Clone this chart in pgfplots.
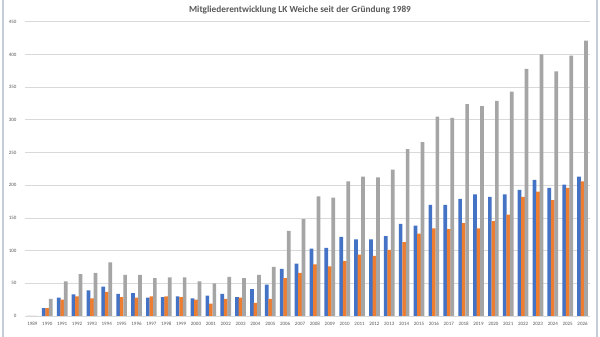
\documentclass[border=0pt]{standalone}
\usepackage{pgfplots}
\pgfplotsset{compat=1.18}
\usepackage{pgfplotstable}
\usepackage{fontspec}
\setmainfont{Carlito}
\definecolor{cblue}{HTML}{4472C4}
\definecolor{corange}{HTML}{ED7D31}
\definecolor{cgray}{HTML}{A5A5A5}
\definecolor{gridc}{HTML}{D9D9D9}
\definecolor{txt}{HTML}{595959}
\definecolor{bordc}{HTML}{C5CED8}
\pgfplotstableread{
x year a b c
0 1989 0 0 0
1 1990 12 12 26
2 1991 28 25 53
3 1992 33 30 64
4 1993 39 27 66
5 1994 45 37 82
6 1995 34 29 63
7 1996 35 28 63
8 1997 28 30 58
9 1998 29 30 59
10 1999 30 29 59
11 2000 27 25 53
12 2001 31 19 50
13 2002 34 26 60
14 2003 29 28 58
15 2004 41 20 63
16 2005 48 26 75
17 2006 72 58 130
18 2007 80 66 148
19 2008 103 79 183
20 2009 104 76 181
21 2010 121 84 206
22 2011 117 94 213
23 2012 117 92 212
24 2013 122 101 224
25 2014 141 113 255
26 2015 138 126 266
27 2016 170 134 305
28 2017 170 133 303
29 2018 179 142 324
30 2019 186 134 321
31 2020 182 145 329
32 2021 186 155 343
33 2022 193 182 378
34 2023 208 190 400
35 2024 196 177 374
36 2025 201 196 398
37 2026 213 206 421
}\data
\begin{document}
\begin{tikzpicture}[x=1pt,y=1pt]
\path[use as bounding box] (0,0) rectangle (600,337);
\fill[white] (0,0) rectangle (600,337);
\draw[bordc, line width=1.2pt] (3,0) -- (3,337);
\draw[bordc, line width=1.2pt] (597,0) -- (597,337);
\node[font=\bfseries\fontsize{9.3}{11}\selectfont, text=txt] at (300,326.5) {Mitgliederentwicklung LK Weiche seit der Gründung 1989};
\begin{axis}[
  at={(25pt,21pt)}, anchor=south west,
  scale only axis, width=565pt, height=294.3pt,
  xmin=-0.5, xmax=37.5, ymin=0, ymax=450,
  ytick={0,50,...,450},
  xtick=data,
  xticklabels from table={\data}{year},
  major tick length=0pt,
  axis x line*=bottom, axis y line*=left,
  x axis line style={draw=gridc},
  y axis line style={draw=none},
  ymajorgrids, grid style={draw=gridc, line width=0.6pt},
  tick label style={font=\fontsize{5}{6}\selectfont, text=txt},
  yticklabel style={xshift=-5pt},
  xticklabel style={yshift=-2.5pt},
  /pgf/number format/assume math mode=true,
]
\addplot[ybar, bar width=3.7pt, bar shift=-3.5pt, fill=cblue, draw=none] table[x=x,y=a]{\data};
\addplot[ybar, bar width=3.7pt, bar shift=0pt, fill=corange, draw=none] table[x=x,y=b]{\data};
\addplot[ybar, bar width=3.7pt, bar shift=3.5pt, fill=cgray, draw=none] table[x=x,y=c]{\data};
\end{axis}
\end{tikzpicture}
\end{document}
